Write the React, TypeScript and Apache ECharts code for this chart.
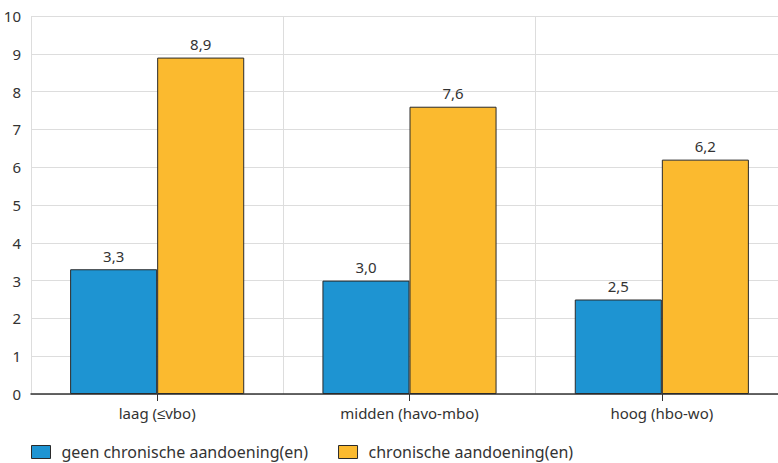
import React, { useEffect, useRef } from "react";
import * as echarts from "echarts";

const categories = ["laag (≤vbo)", "midden (havo-mbo)", "hoog (hbo-wo)"];
const seriesNames = ["geen chronische aandoening(en)", "chronische aandoening(en)"];
const geenValues = [3.3, 3.0, 2.5];
const chronischValues = [8.9, 7.6, 6.2];
const yTicks = { min: 0, max: 10, interval: 1 };

const FONT = "'Noto Sans', sans-serif";

export default function App() {
  const ref = useRef<HTMLDivElement>(null);
  useEffect(() => {
    if (!ref.current) return;
    const chart = echarts.init(ref.current, null, { renderer: "svg" });
    const label = {
      show: true,
      position: "top",
      distance: 6,
      color: "#333",
      fontSize: 15,
      fontFamily: FONT,
      formatter: (p: any) => Number(p.value).toFixed(1).replace(".", ","),
    };
    chart.setOption({
      animation: false,
      textStyle: { fontFamily: FONT },
      grid: { left: 31, width: 757, top: 16, height: 378, containLabel: false, outerBoundsMode: "none" },
      legend: {
        left: 31,
        top: 444,
        padding: 0,
        itemWidth: 19,
        itemHeight: 13,
        itemGap: 30,
        icon: "rect",
        itemStyle: { borderColor: "#2a2a2a", borderWidth: 1 },
        textStyle: { color: "#333", fontSize: 16, fontFamily: FONT, padding: [0, 0, 0, 6] },
        data: seriesNames,
      },
      xAxis: {
        type: "category",
        data: categories,
        axisLine: { show: true, lineStyle: { color: "#333", width: 1.5 } },
        axisTick: { show: true, alignWithLabel: true, length: 7, lineStyle: { color: "#333" } },
        axisLabel: { color: "#333", fontSize: 15, fontFamily: FONT, margin: 11 },
        splitLine: { show: true, lineStyle: { color: "#dddddd", width: 1 } },
      },
      yAxis: {
        type: "value",
        min: yTicks.min,
        max: yTicks.max,
        interval: yTicks.interval,
        axisLine: { show: false },
        axisTick: { show: false },
        axisLabel: { color: "#333", fontSize: 15, fontFamily: FONT, margin: 10 },
        splitLine: { show: true, lineStyle: { color: "#dddddd", width: 1 } },
      },
      series: [
        {
          name: seriesNames[0],
          type: "bar",
          data: geenValues,
          barGap: "0%",
          barCategoryGap: "31%",
          itemStyle: { color: "#1e94d2", borderColor: "#2a2a2a", borderWidth: 1 },
          label,
        },
        {
          name: seriesNames[1],
          type: "bar",
          data: chronischValues,
          barGap: "0%",
          barCategoryGap: "31%",
          itemStyle: { color: "#fbba2f", borderColor: "#2a2a2a", borderWidth: 1 },
          label,
        },
      ],
    });
    return () => chart.dispose();
  }, []);
  return <div ref={ref} style={{ width: 778, height: 463, position: "absolute", left: 0, top: 0 }} />;
}
